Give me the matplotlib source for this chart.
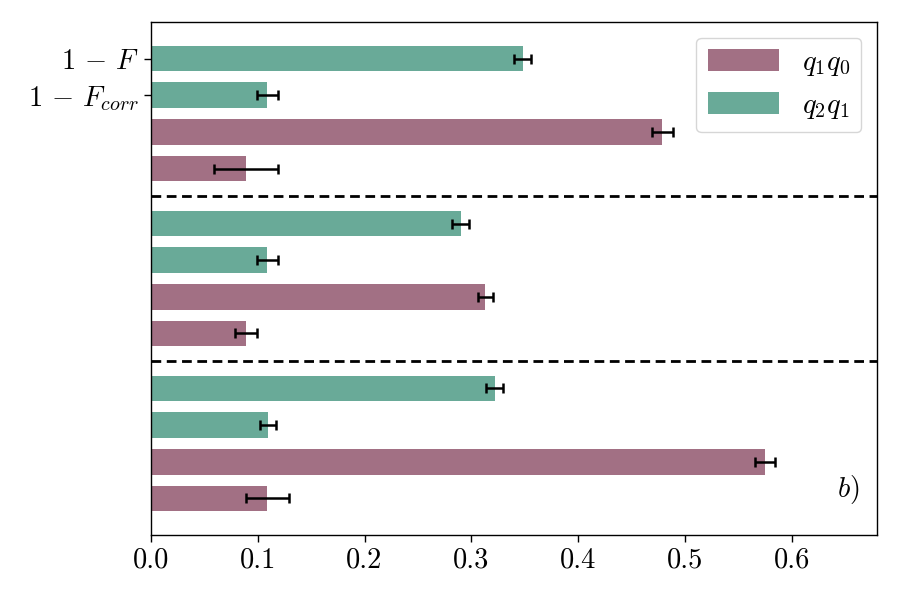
import matplotlib
matplotlib.use('Agg')
import matplotlib.pyplot as plt
import numpy as np

# LaTeX-like look
plt.rcParams['font.family'] = 'serif'
plt.rcParams['font.serif'] = ['cmr10', 'DejaVu Serif']
plt.rcParams['mathtext.fontset'] = 'cm'
plt.rcParams['axes.formatter.use_mathtext'] = True

# groups from top to bottom
q1q0_F = [0.479, 0.313, 0.575]
q1q0_F_err = [0.010, 0.007, 0.009]
q1q0_Fcorr = [0.089, 0.089, 0.109]
q1q0_Fcorr_err = [0.030, 0.010, 0.020]
q2q1_F = [0.348, 0.290, 0.322]
q2q1_F_err = [0.008, 0.008, 0.008]
q2q1_Fcorr = [0.109, 0.109, 0.110]
q2q1_Fcorr_err = [0.010, 0.010, 0.0075]

series_labels = [r'$q_1q_0$', r'$q_2q_1$']
ytick_labels = [r'$1\,-\,F$', r'$1\,-\,F_{corr}$']
x_ticks = [0.0, 0.1, 0.2, 0.3, 0.4, 0.5, 0.6]

c_mauve = '#a27084'
c_teal = '#69aa98'
fs = 20.5

fig = plt.figure(figsize=(9, 6), dpi=100)
ax = fig.add_axes([151 / 900, 65 / 600, 726 / 900, 513 / 600])

n = len(q1q0_F)
base = np.array([(n - 1 - g) * 4.5 for g in range(n)])
h = 0.7
err_kw = dict(ecolor='black', elinewidth=1.8, capsize=3.5, capthick=1.8)

ax.barh(base, q1q0_Fcorr, height=h, color=c_mauve, xerr=q1q0_Fcorr_err, error_kw=err_kw)
ax.barh(base + 1, q1q0_F, height=h, color=c_mauve, xerr=q1q0_F_err, error_kw=err_kw,
        label=series_labels[0])
ax.barh(base + 2, q2q1_Fcorr, height=h, color=c_teal, xerr=q2q1_Fcorr_err, error_kw=err_kw)
ax.barh(base + 3, q2q1_F, height=h, color=c_teal, xerr=q2q1_F_err, error_kw=err_kw,
        label=series_labels[1])

# separators between groups
for b in base[:-1]:
    ax.axhline(b - 0.75, color='black', lw=2.0, ls=(0, (3.5, 2.0)))

ax.set_xlim(0, 0.68)
ax.set_ylim(-1, base[0] + 4)
ax.set_xticks(x_ticks)
ax.set_xticklabels([f'{v:.1f}' for v in x_ticks])
ax.set_yticks([base[0] + 3, base[0] + 2])
ax.set_yticklabels(ytick_labels)
ax.tick_params(labelsize=fs, length=5, width=1)
for s in ax.spines.values():
    s.set_linewidth(1)

leg = ax.legend(loc='upper right', fontsize=fs, handlelength=2.5, handleheight=0.8,
                borderaxespad=0.55, fancybox=True)
leg.get_frame().set_edgecolor('#cccccc')

ax.text(0.96, 0.088, r'$b)$', transform=ax.transAxes, fontsize=fs,
        ha='center', va='center')

plt.savefig('out.png', dpi=100)
